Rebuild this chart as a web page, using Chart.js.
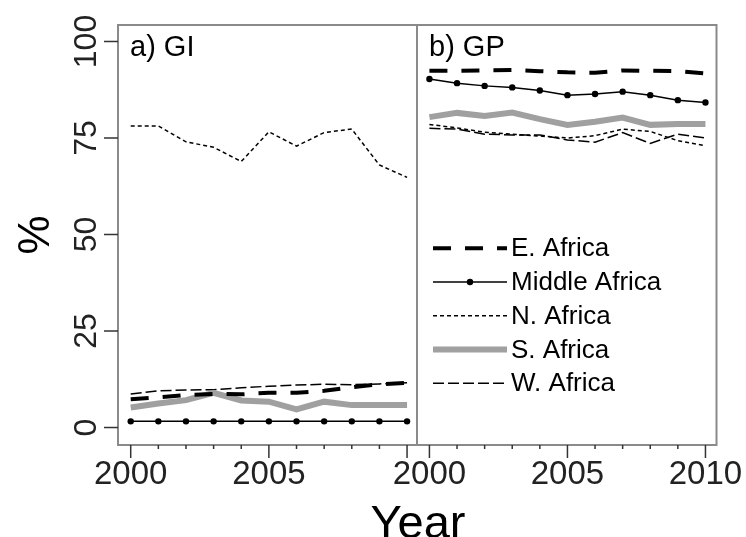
<!DOCTYPE html>
<html><head><meta charset="utf-8">
<script src="https://cdn.jsdelivr.net/npm/chart.js@4.4.0/dist/chart.umd.min.js"></script>
<style>
html,body{margin:0;padding:0;background:#fff;overflow:hidden}
#wrap{position:relative;width:746px;height:537px;background:#fff}
canvas{position:absolute;left:0;top:0}
</style></head>
<body><div id="wrap"><canvas id="ca" width="746" height="537"></canvas><canvas id="cb" width="746" height="537"></canvas></div>
<script>
// ---- data ----
const years = [2000, 2001, 2002, 2003, 2004, 2005, 2006, 2007, 2008, 2009, 2010];
const regions = ['E. Africa', 'Middle Africa', 'N. Africa', 'S. Africa', 'W. Africa'];
// a) GI
const giEast   = [7.3, 7.8, 8.4, 8.7, 8.6, 9.0, 9.0, 9.5, 10.4, 11.2, 11.6];
const giMiddle = [1.6, 1.6, 1.6, 1.6, 1.6, 1.6, 1.6, 1.6, 1.6, 1.6, 1.6];
const giNorth  = [78.1, 78.1, 74.0, 72.6, 68.9, 76.6, 72.9, 76.4, 77.3, 68.0, 64.8];
const giSouth  = [5.2, 6.2, 7.1, 9.0, 7.0, 6.7, 4.7, 6.7, 5.8, 5.8, 5.8];
const giWest   = [8.7, 9.5, 9.7, 9.8, 10.3, 10.7, 11.0, 11.2, 11.1, 11.3, 11.6];
// b) GP
const gpEast   = [92.4, 92.4, 92.5, 92.6, 92.3, 92.0, 91.9, 92.5, 92.4, 92.3, 91.7];
const gpMiddle = [90.3, 89.2, 88.5, 88.1, 87.3, 86.1, 86.4, 87.0, 86.1, 84.8, 84.2];
const gpNorth  = [78.5, 77.6, 76.5, 76.0, 75.5, 75.0, 75.6, 77.3, 76.7, 74.3, 73.0];
const gpSouth  = [80.4, 81.5, 80.7, 81.6, 79.9, 78.4, 79.2, 80.3, 78.4, 78.6, 78.6];
const gpWest   = [77.5, 77.3, 76.0, 75.8, 75.8, 74.5, 73.9, 76.4, 73.6, 76.0, 75.0];
const yTickValues = [0, 25, 50, 75, 100];
const panelTitles = ['a) GI', 'b) GP'];
const xAxisTitle = 'Year';
const yAxisTitle = '%';

// ---- styles ----
const FONT = 'Arial, "Liberation Sans", sans-serif';
const styles = [
  {borderColor: '#000', borderWidth: 4, borderDash: [18, 14], pointRadius: 0},
  {borderColor: '#000', borderWidth: 1.5, borderDash: [], pointRadius: 3.2, pointBackgroundColor: '#000', pointBorderWidth: 0},
  {borderColor: '#000', borderWidth: 1.5, borderDash: [4, 3], pointRadius: 0},
  {borderColor: '#a0a0a0', borderWidth: 6, borderDash: [], pointRadius: 0},
  {borderColor: '#000', borderWidth: 1.5, borderDash: [11, 4], pointRadius: 0}
];
function makeDatasets(series) {
  return series.map((arr, i) => Object.assign({
    label: regions[i],
    data: years.map((yr, j) => ({x: yr, y: arr[j]})),
    tension: 0, fill: false, pointHoverRadius: 0,
    borderCapStyle: 'butt', borderJoinStyle: 'miter'
  }, styles[i]));
}

const framePlugin = {
  id: 'frame',
  afterDraw(chart, args, opts) {
    const {ctx, chartArea: a, scales: {x, y}} = chart;
    ctx.save();
    ctx.strokeStyle = '#8a8a8a'; ctx.lineWidth = 2;
    ctx.strokeRect(a.left, a.top, a.right - a.left, a.bottom - a.top);
    ctx.strokeStyle = '#333'; ctx.lineWidth = 1.5;
    x.ticks.forEach(t => {
      const v = t.value;
      const px = x.getPixelForValue(v);
      const len = (v % 5 === 0) ? 13 : 4;
      ctx.beginPath(); ctx.moveTo(px, a.bottom); ctx.lineTo(px, a.bottom + len); ctx.stroke();
    });
    if (opts.yTicks) {
      ctx.fillStyle = '#222';
      ctx.font = '32px ' + FONT;
      yTickValues.forEach(v => {
        const py = y.getPixelForValue(v);
        ctx.beginPath(); ctx.moveTo(a.left - 14, py); ctx.lineTo(a.left, py); ctx.stroke();
        ctx.save();
        ctx.translate(a.left - 30.5, py);
        ctx.rotate(-Math.PI / 2);
        ctx.textAlign = 'center'; ctx.textBaseline = 'middle';
        ctx.fillText(String(v), 0, 0);
        ctx.restore();
      });
    }
    ctx.fillStyle = '#000';
    ctx.font = '29px ' + FONT;
    ctx.textAlign = 'left'; ctx.textBaseline = 'alphabetic';
    ctx.fillText(opts.title, a.left + 12, a.top + 31);
    if (opts.legend) {
      ctx.font = '26px ' + FONT;
      ctx.textBaseline = 'middle';
      chart.data.datasets.forEach((ds, i) => {
        const yy = 248.3 + i * 33.75;
        const x0 = a.left + 16, x1 = a.left + 90;
        ctx.save();
        ctx.strokeStyle = ds.borderColor; ctx.lineWidth = ds.borderWidth;
        ctx.setLineDash(ds.borderDash || []);
        ctx.beginPath(); ctx.moveTo(x0, yy); ctx.lineTo(x1, yy); ctx.stroke();
        ctx.restore();
        if (ds.pointRadius > 0) {
          ctx.beginPath(); ctx.fillStyle = ds.pointBackgroundColor;
          ctx.arc((x0 + x1) / 2, yy, ds.pointRadius, 0, Math.PI * 2); ctx.fill();
        }
        ctx.fillStyle = '#000';
        ctx.fillText(ds.label, x1 + 4, yy + 1);
      });
    }
    if (opts.xTitle) {
      ctx.fillStyle = '#000';
      ctx.font = '47px ' + FONT;
      ctx.textAlign = 'center'; ctx.textBaseline = 'alphabetic';
      ctx.fillText(xAxisTitle, 418, 538);
    }
    ctx.restore();
  }
};

function makeChart(id, series, cfg) {
  return new Chart(document.getElementById(id), {
    type: 'line',
    data: {datasets: makeDatasets(series)},
    plugins: [framePlugin],
    options: {
      responsive: false, animation: false, devicePixelRatio: 1,
      layout: {padding: cfg.padding},
      plugins: {legend: {display: false}, tooltip: {enabled: false}, frame: cfg.frame},
      scales: {
        x: {
          type: 'linear', min: cfg.xmin, max: cfg.xmax,
          afterBuildTicks: s => { s.ticks = years.map(v => ({value: v})); },
          afterFit: s => { s.height = 92; s.paddingLeft = 0; s.paddingRight = 0; },
          grid: {display: false, drawTicks: false},
          border: {display: false},
          ticks: {
            autoSkip: false, maxRotation: 0, minRotation: 0, padding: 10,
            color: '#222', font: {family: FONT, size: 33},
            callback: v => cfg.xLabels.includes(v) ? String(v) : ''
          }
        },
        y: {
          display: cfg.showY, min: -4.53, max: 104.27,
          afterFit: s => { s.width = cfg.showY ? 118 : 0; s.paddingTop = 0; s.paddingBottom = 0; },
          grid: {display: false, drawTicks: false},
          border: {display: false},
          ticks: {display: false},
          title: {display: true, text: yAxisTitle, color: '#000', font: {family: FONT, size: 44}, padding: {top: 10, bottom: 0}}
        }
      }
    }
  });
}

makeChart('ca', [giEast, giMiddle, giNorth, giSouth, giWest], {
  padding: {left: 0, top: 25, right: 329, bottom: 0},
  xmin: 1999.54, xmax: 2010.36, xLabels: [2000, 2005], showY: true,
  frame: {title: panelTitles[0], yTicks: true, legend: false, xTitle: false}
});
makeChart('cb', [gpEast, gpMiddle, gpNorth, gpSouth, gpWest], {
  padding: {left: 417, top: 25, right: 29.5, bottom: 0},
  xmin: 1999.55, xmax: 2010.40, xLabels: [2000, 2005, 2010], showY: false,
  frame: {title: panelTitles[1], yTicks: false, legend: true, xTitle: true}
});
</script>
</body></html>
